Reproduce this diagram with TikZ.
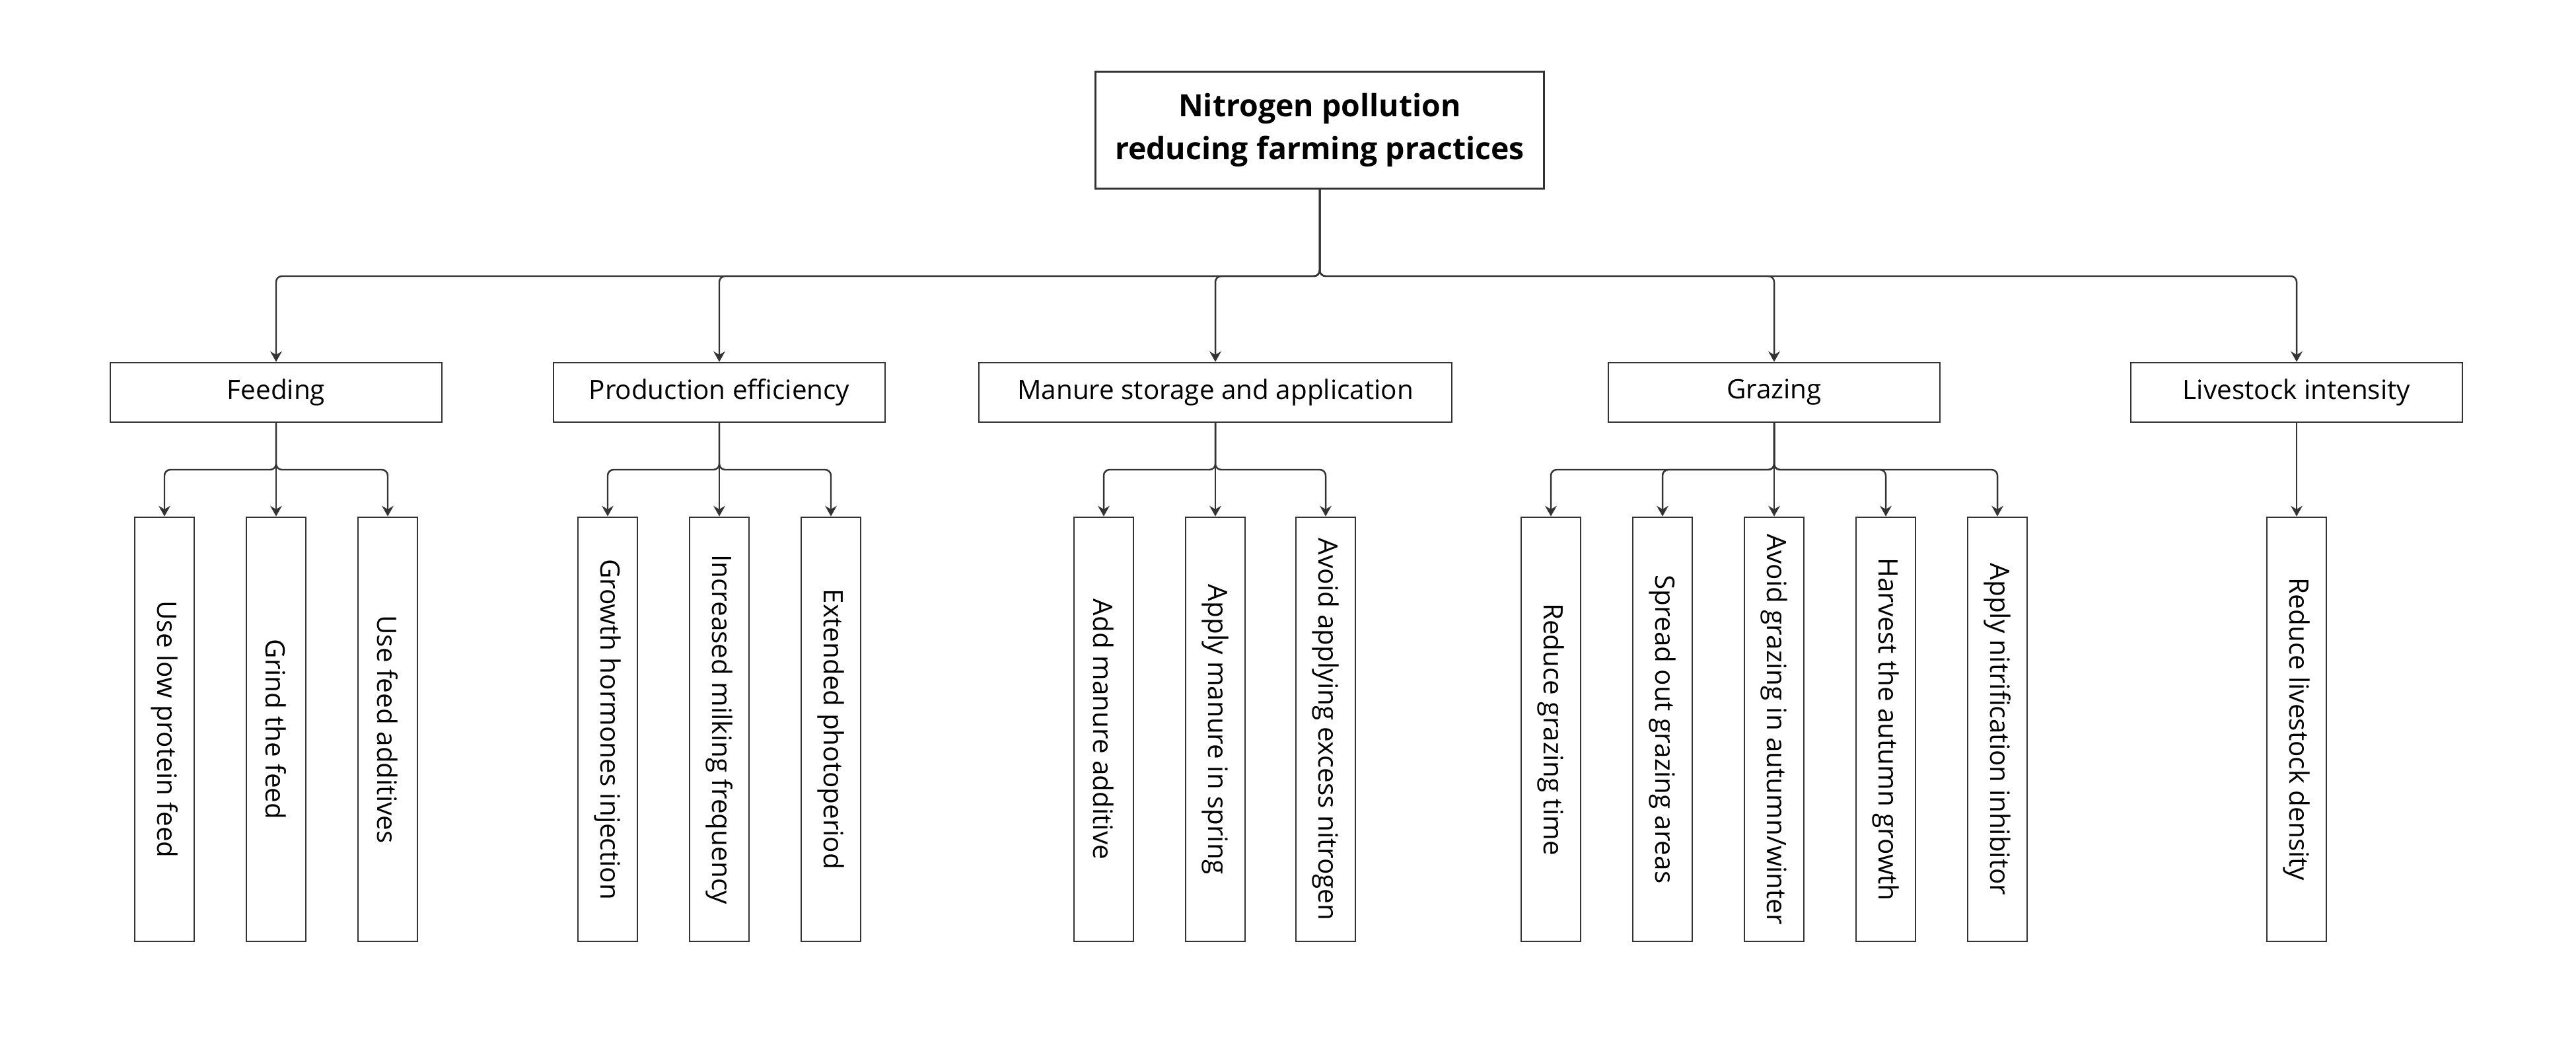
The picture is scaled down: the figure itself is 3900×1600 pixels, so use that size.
\documentclass[tikz,border=0pt]{standalone}
\usepackage{fontspec}
\setmainfont{Open Sans}
\usetikzlibrary{arrows.meta}
\begin{document}
\begin{tikzpicture}[x = .01cm, y = -.01cm,
	box/.style = {draw = black!80, line width = .7pt, fill = white, inner sep = 0pt, align = center},
	cat/.style = {box, minimum width = 5.02cm, minimum height = .9cm, font = \fontsize{11.5}{13}\selectfont},
	leaf/.style = {box, minimum width = .9cm, minimum height = 6.42cm, font = \fontsize{11.5}{13}\selectfont},
	link/.style = {draw = black!80, line width = .7pt, rounded corners = 2.5pt, -{Stealth[length = 4.5pt, width = 5pt]}}]
	\fill[white] (0,0) rectangle (3900,1600);
	\node[box, minimum width = 6.79cm, minimum height = 1.77cm, font = \fontsize{13.2}{18.4}\selectfont\bfseries] (root) at (1998,197) {Nitrogen pollution\\reducing farming practices};
	\node[cat] (feed) at (418,594) {Feeding};
	\node[cat] (prod) at (1089,594) {Production efficiency};
	\node[cat, minimum width = 7.16cm] (manure) at (1840,594) {Manure storage and application};
	\node[cat] (graz) at (2686,594) {Grazing};
	\node[cat] (live) at (3477,594) {Livestock intensity};
	\coordinate (bus) at (1998,418);
	\foreach \c in {feed,prod,manure,graz,live}
		\draw[link] (root) -- (bus) -| (\c);
	\foreach \n/\x/\t in {fa/249/Use low protein feed, fb/418/Grind the feed, fc/587/Use feed additives,
		pa/920/Growth hormones injection, pb/1089/Increased milking frequency, pc/1258/Extended photoperiod,
		ma/1671/Add manure additive, mb/1840/Apply manure in spring, mc/2007/Avoid applying excess nitrogen,
		ga/2348/Reduce grazing time, gb/2517/Spread out grazing areas, gc/2686/{Avoid grazing in autumn/winter},
		gd/2855/Harvest the autumn growth, ge/3024/Apply nitrification inhibitor, la/3477/Reduce livestock density}
		\node[leaf] (\n) at (\x,1104) {\rotatebox{-90}{\t}};
	\foreach \p/\x in {feed/418, prod/1089, manure/1840, graz/2686}
		\coordinate (\p bus) at (\x,711);
	\foreach \l in {fa,fc} \draw[link] (feed) -- (feedbus) -| (\l);
	\foreach \l in {pa,pc} \draw[link] (prod) -- (prodbus) -| (\l);
	\foreach \l in {ma,mc} \draw[link] (manure) -- (manurebus) -| (\l);
	\foreach \l in {ga,gb,gd,ge} \draw[link] (graz) -- (grazbus) -| (\l);
	\draw[link] (feed) -- (fb);
	\draw[link] (prod) -- (pb);
	\draw[link] (manure) -- (mb);
	\draw[link] (graz) -- (gc);
	\draw[link] (live) -- (la);
\end{tikzpicture}
\end{document}
